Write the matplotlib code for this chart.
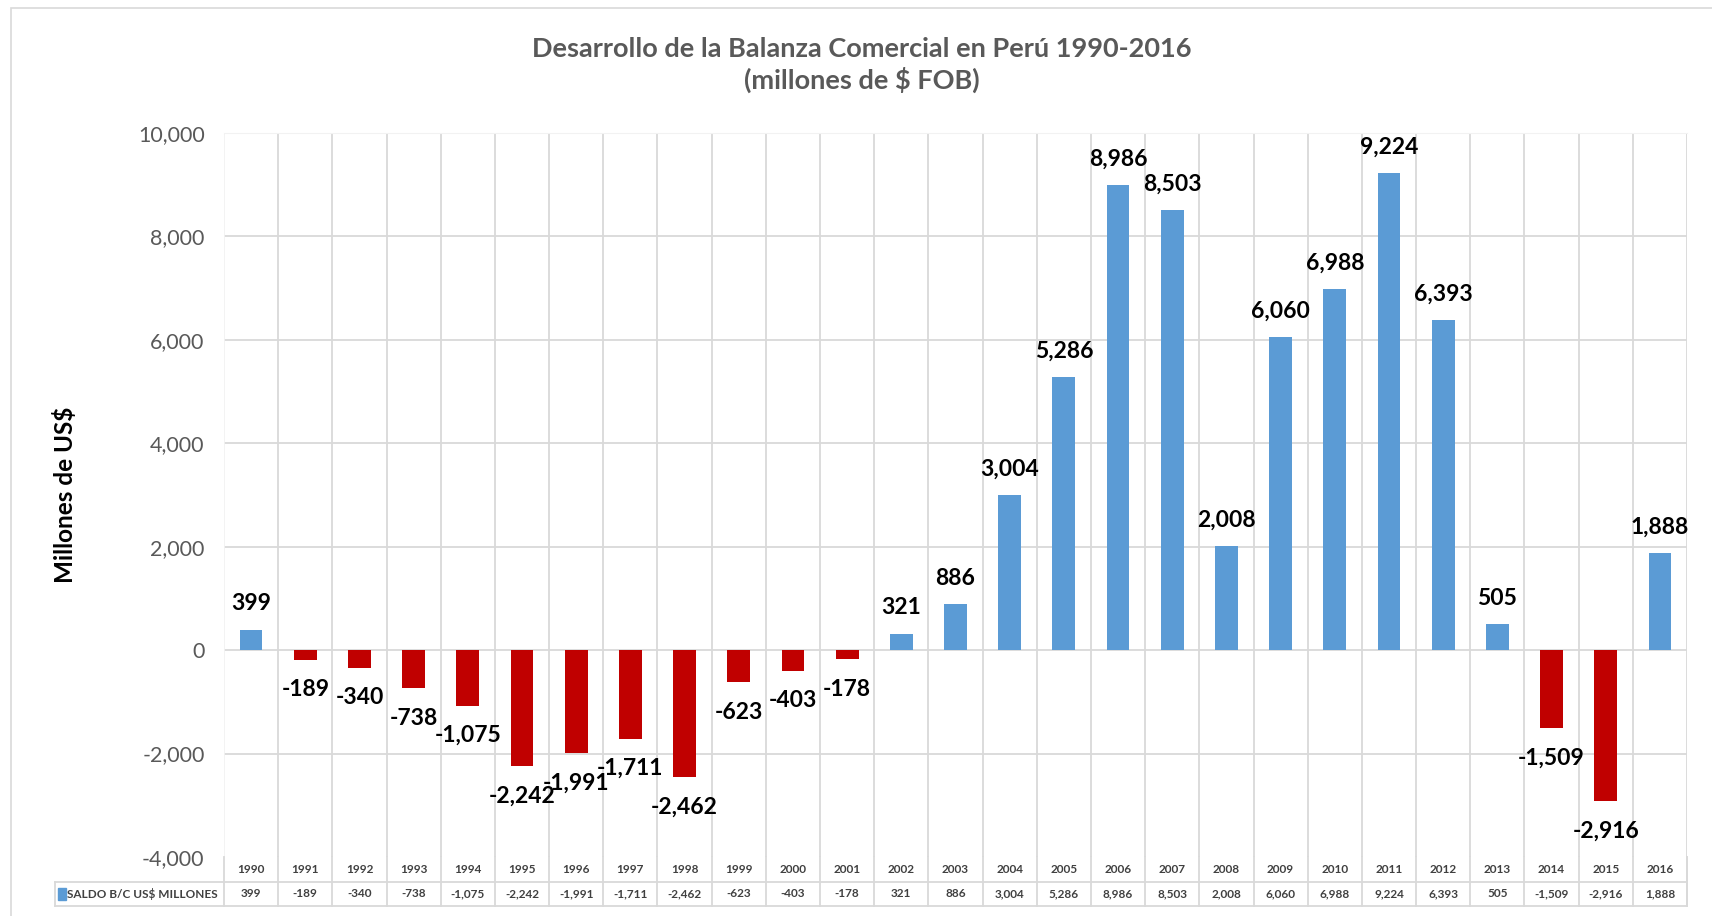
import matplotlib
matplotlib.use("Agg")
from matplotlib import pyplot as plt
from matplotlib.patches import Rectangle
import numpy as np

years = [str(y) for y in range(1990, 2017)]
saldo = [399, -189, -340, -738, -1075, -2242, -1991, -1711, -2462, -623,
         -403, -178, 321, 886, 3004, 5286, 8986, 8503, 2008, 6060,
         6988, 9224, 6393, 505, -1509, -2916, 1888]
serie = "SALDO B/C US$ MILLONES"
titulo = "Desarrollo de la Balanza Comercial en Perú 1990-2016\n(millones de $ FOB)"
ylabel = "Millones de US$"

plt.rcParams['font.family'] = ['Lato', 'DejaVu Sans']

W, H = 1712, 916
fig = plt.figure(figsize=(W / 100, H / 100), dpi=100)

# borde exterior del grafico
fig.patches.append(Rectangle((11 / W, -0.05), 1.2, 1 - 8 / H + 0.05,
                             transform=fig.transFigure, fill=False,
                             edgecolor='#D9D9D9', linewidth=1.2))

# area del grafico (px)
x0, x1, ytop, ybot = 224, 1687, 133, 857
ax = fig.add_axes([x0 / W, 1 - ybot / H, (x1 - x0) / W, (ybot - ytop) / H])

n = len(years)
x = np.arange(n)
colores = ['#5B9BD5' if v >= 0 else '#C00000' for v in saldo]
ax.bar(x, saldo, width=0.42, color=colores, zorder=3)

ax.set_xlim(-0.5, n - 0.5)
ax.set_ylim(-4000, 10000)
ax.set_yticks(range(-4000, 10001, 2000))
ax.set_yticklabels([f"{t:,}" for t in range(-4000, 10001, 2000)],
                   fontsize=15.5, color='#595959')
ax.set_xticks([])
ax.tick_params(axis='y', length=0, pad=14)
for s in ax.spines.values():
    s.set_visible(False)
ax.spines['top'].set_visible(True)
ax.spines['top'].set_color('#F2F2F2')

for t in range(-2000, 10001, 2000):
    ax.axhline(t, color='#D9D9D9', lw=1.3, zorder=1)
for b in np.arange(-0.5, n, 1.0):
    ax.axvline(b, color='#D9D9D9' if b > -0.5 else '#F2F2F2', lw=1.3, zorder=1)

for xi, v in zip(x, saldo):
    if v >= 0:
        ax.annotate(f"{v:,}", (xi, v), xytext=(0, 11), textcoords='offset points',
                    ha='center', va='bottom', fontsize=16.5, fontweight='bold',
                    color='black', zorder=5)
    else:
        ax.annotate(f"{v:,}", (xi, v), xytext=(0, -14), textcoords='offset points',
                    ha='center', va='top', fontsize=16.5, fontweight='bold',
                    color='black', zorder=5)

ax.set_ylabel(ylabel, fontsize=17.5, fontweight='bold', color='black')
ax.yaxis.set_label_coords((77 - x0) / (x1 - x0), 0.5)

fig.text(862 / W, 1 - 65 / H, titulo, ha='center', va='center',
         fontsize=19.5, fontweight='bold', color='#595959', linespacing=1.3)

# tabla de datos
tleft, tbot = 55, 906
tax = fig.add_axes([tleft / W, 1 - tbot / H, (x1 - tleft) / W, (tbot - ybot) / H])
ext = (x0 - tleft) / (x1 - x0) * n
tax.set_xlim(-0.5 - ext, n - 0.5)
tax.set_ylim(0, 2)
tax.axis('off')
lc = '#D9D9D9'
tax.plot([-0.5 - ext, n - 0.5], [0, 0], color=lc, lw=1.3, clip_on=False)
tax.plot([-0.5 - ext, n - 0.5], [1, 1], color=lc, lw=1.3, clip_on=False)
tax.plot([-0.5 - ext, -0.5 - ext], [0, 1], color=lc, lw=1.3, clip_on=False)
for b in np.arange(-0.5, n, 1.0):
    tax.plot([b, b], [0, 2], color=lc, lw=1.3, clip_on=False)
tax.plot([n - 0.5, n - 0.5], [0, 2], color=lc, lw=1.3, clip_on=False)
for xi, yr, v in zip(x, years, saldo):
    tax.text(xi, 1.5, yr, ha='center', va='center', fontsize=8.5,
             color='#404040', fontweight='bold')
    tax.text(xi, 0.5, f"{v:,}", ha='center', va='center', fontsize=8.5,
             color='#404040', fontweight='bold')
tax.add_patch(Rectangle((-0.5 - ext + 0.05, 0.25), 0.15, 0.5, color='#5B9BD5',
                        clip_on=False))
tax.text(-0.5 - ext + 0.22, 0.5, serie, ha='left', va='center', fontsize=8.5,
         color='#404040', fontweight='bold')

fig.savefig('out.png', dpi=100)
